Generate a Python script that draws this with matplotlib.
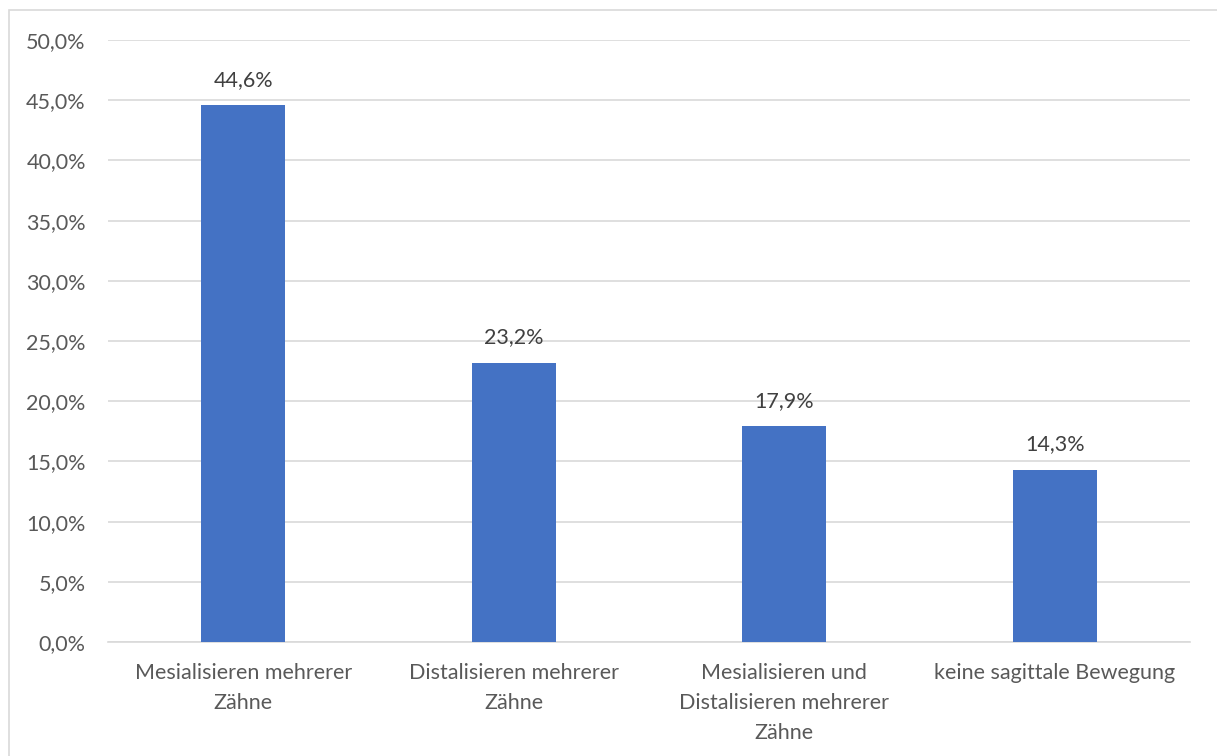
import matplotlib
matplotlib.use("Agg")
import matplotlib.pyplot as plt
from matplotlib.patches import Rectangle

categories = ["Mesialisieren mehrerer\nZähne",
              "Distalisieren mehrerer\nZähne",
              "Mesialisieren und\nDistalisieren mehrerer\nZähne",
              "keine sagittale Bewegung"]
values = [44.6, 23.2, 17.9, 14.3]
yticks = [0, 5, 10, 15, 20, 25, 30, 35, 40, 45, 50]

plt.rcParams['font.family'] = ['Lato', 'DejaVu Sans']
txt = '#595959'
fs = 15.5

fig = plt.figure(figsize=(12.17, 7.56), dpi=100)
ax = fig.add_axes([108/1217, 1 - 642/756, (1190-108)/1217, (642-40)/756])

x = range(len(values))
ax.bar(x, values, width=0.31, color='#4472C4', zorder=3)
for xi, v in zip(x, values):
    ax.annotate(f"{v:.1f}%".replace('.', ','), (xi, v), xytext=(0, 11),
                textcoords='offset points', ha='center', va='bottom',
                fontsize=fs, color='#404040')

ax.set_xlim(-0.5, 3.5)
ax.set_ylim(0, 50)
ax.set_yticks(yticks)
ax.set_yticklabels([f"{t:.1f}%".replace('.', ',') for t in yticks], fontsize=fs, color=txt)
ax.set_xticks(list(x))
ax.set_xticklabels(categories, fontsize=fs, color=txt, linespacing=1.62, va='top')
ax.tick_params(axis='both', length=0)
ax.tick_params(axis='y', pad=16)
ax.tick_params(axis='x', pad=15)
ax.grid(axis='y', color='#D9D9D9', linewidth=1.2, zorder=0)
for s in ['top', 'right', 'left']:
    ax.spines[s].set_visible(False)
ax.spines['bottom'].set_color('#D9D9D9')
ax.spines['bottom'].set_linewidth(1.2)

# chart area outline
fig.patches.append(Rectangle((9/1217, -0.1), 1.2, 1 - 10/756 + 0.1,
                             transform=fig.transFigure, fill=False,
                             edgecolor='#D9D9D9', linewidth=1.2))

fig.savefig("out.png", dpi=100)
